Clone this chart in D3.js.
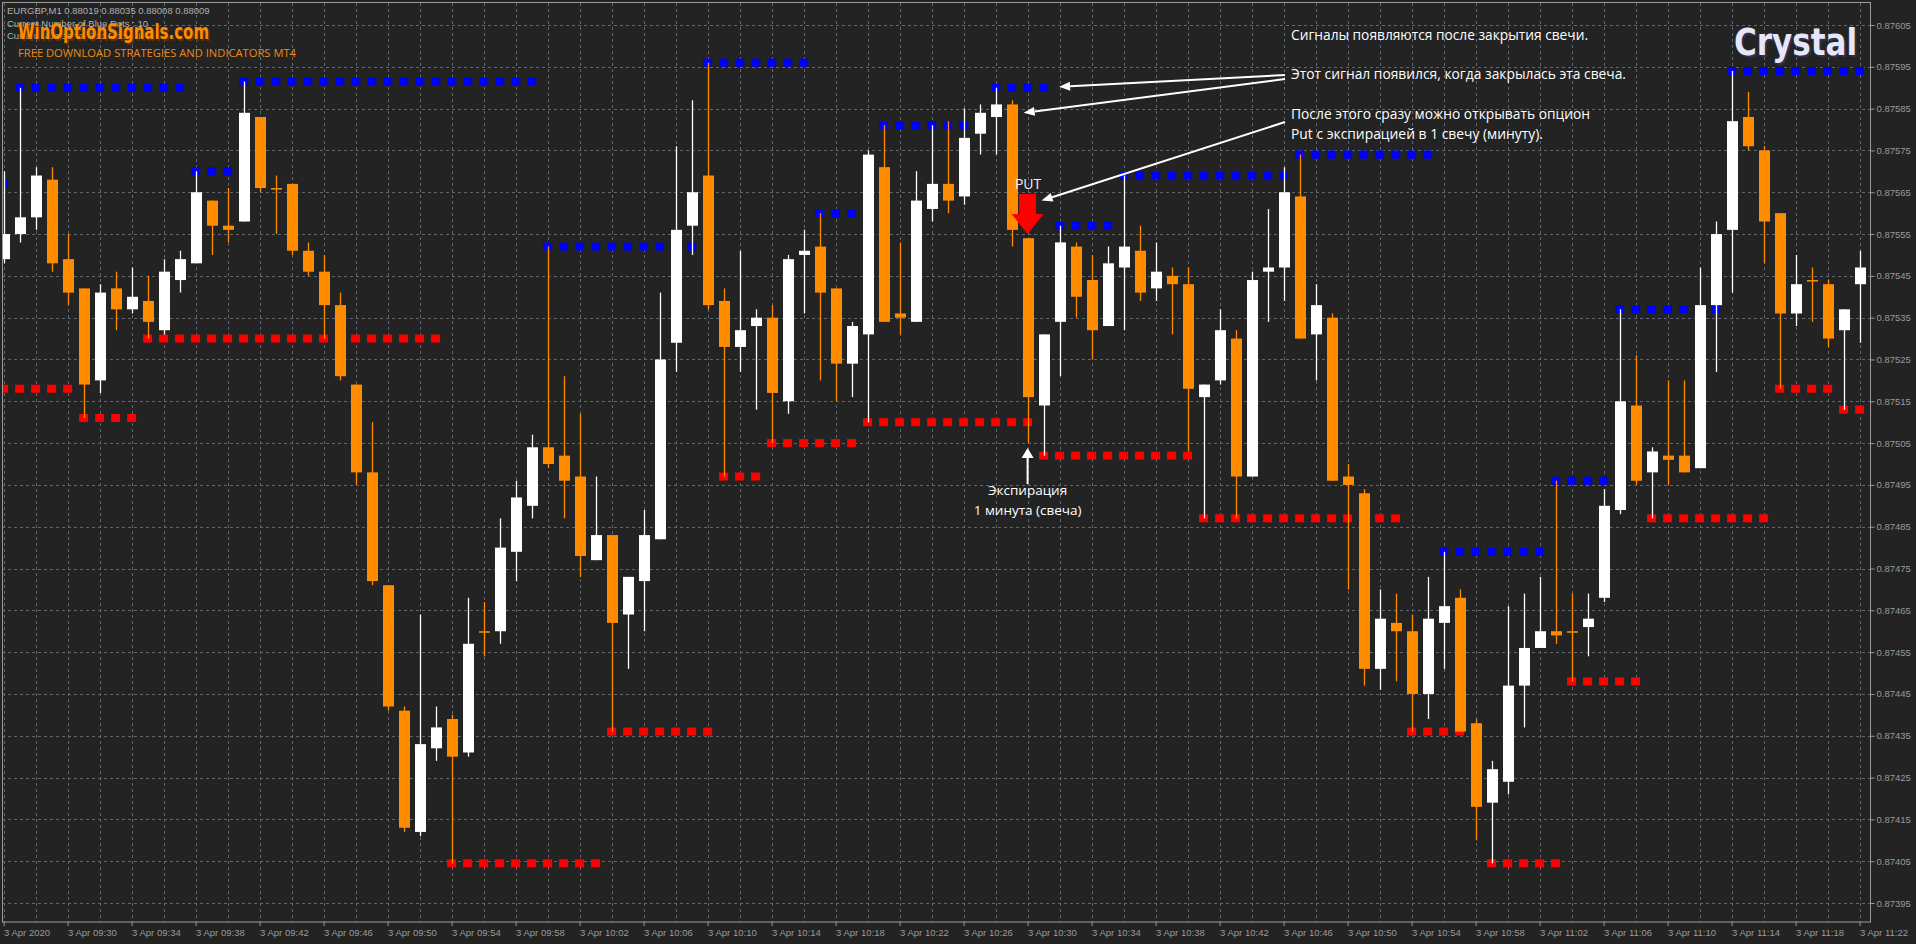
<!DOCTYPE html>
<html><head><meta charset="utf-8">
<script src="https://cdn.jsdelivr.net/npm/d3@7"></script>
<style>html,body{margin:0;padding:0;background:#232323;overflow:hidden}</style>
</head><body><svg id="c" width="1916" height="944"></svg>
<script>
// ---- data (EURGBP M1, 3 Apr 2020, 09:26 .. 11:22) ----
const openP=[0.87549,0.87555,0.87559,0.87568,0.87549,0.87542,0.8752,0.87542,0.87537,0.87539,
0.87532,0.87544,0.87548,0.87563,0.87557,0.87558,0.87583,0.87566,0.87567,0.87551,
0.87546,0.87538,0.87519,0.87498,0.87471,0.87441,0.87412,0.87432,0.87439,0.87431,
0.8746,0.8746,0.87479,0.8749,0.87504,0.87502,0.87497,0.87477,0.87483,0.87464,
0.87472,0.87482,0.87529,0.87557,0.87569,0.87539,0.87528,0.87533,0.87535,0.87515,
0.8755,0.87552,0.87542,0.87524,0.87531,0.87571,0.87536,0.87534,0.87561,0.87567,
0.87564,0.87579,0.87583,0.87586,0.87554,0.87514,0.87534,0.87552,0.87544,0.87533,
0.87547,0.87551,0.87542,0.87545,0.87543,0.87516,0.8752,0.8753,0.87497,0.87546,
0.87547,0.87564,0.87531,0.87535,0.87497,0.87493,0.87451,0.87462,0.8746,0.87445,
0.87462,0.87468,0.87438,0.87419,0.87424,0.87447,0.87456,0.8746,0.8746,0.87461,
0.87468,0.87489,0.87514,0.87498,0.87502,0.87502,0.87499,0.87538,0.87556,0.87583,
0.87575,0.8756,0.87536,0.87544,0.87543,0.87532,0.87543];
const highP=[0.8757,0.8759,0.87571,0.87571,0.87555,0.87542,0.87543,0.87546,0.87547,0.87545,
0.87549,0.87551,0.8757,0.87563,0.87566,0.875915,0.87583,0.87569,0.87567,0.87553,
0.8755,0.87541,0.87519,0.8751,0.87471,0.87442,0.87464,0.87442,0.8744,0.87468,
0.87467,0.87487,0.87496,0.87507,0.87552,0.87521,0.87512,0.87497,0.87483,0.87473,
0.87489,0.87541,0.87576,0.87587,0.87596,0.87542,0.87551,0.87537,0.87538,0.8755,
0.87556,0.8756,0.87542,0.87534,0.87575,0.87581,0.87553,0.8757,0.87581,0.87582,
0.87585,0.87586,0.8759,0.87587,0.87554,0.87531,0.87557,0.87553,0.8755,0.87552,
0.87569,0.87557,0.87553,0.87547,0.87547,0.87519,0.87537,0.87532,0.87546,0.87561,
0.87571,0.87574,0.87543,0.87536,0.875,0.87494,0.8747,0.87469,0.87464,0.87473,
0.87479,0.8747,0.87439,0.87429,0.87466,0.87469,0.87473,0.87496,0.87469,0.87469,
0.87494,0.87537,0.87526,0.87504,0.8752,0.8752,0.87547,0.87558,0.87594,0.87589,
0.87576,0.8756,0.8755,0.87547,0.87544,0.87537,0.87551];
const lowP=[0.87548,0.87553,0.87556,0.87546,0.87538,0.87511,0.87517,0.87532,0.87536,0.8753,
0.87531,0.87541,0.87548,0.8755,0.87553,0.87558,0.87565,0.87555,0.8755,0.87545,
0.8753,0.8752,0.87495,0.87471,0.87441,0.87412,0.87411,0.87429,0.874045,0.8743,
0.87454,0.87457,0.87472,0.87487,0.87499,0.87487,0.87473,0.87477,0.87436,0.87451,
0.8746,0.87482,0.87522,0.8755,0.87537,0.87497,0.87522,0.87513,0.87505,0.87512,
0.87536,0.8752,0.87515,0.87516,0.8751,0.87534,0.87531,0.87534,0.87558,0.8756,
0.87562,0.87574,0.87574,0.87552,0.87505,0.87502,0.87521,0.87535,0.87525,0.87533,
0.87532,0.87539,0.87539,0.87531,0.87503,0.87487,0.87519,0.87487,0.87497,0.87534,
0.87539,0.8753,0.8752,0.87496,0.8747,0.87447,0.87446,0.87448,0.87436,0.87439,
0.87451,0.87436,0.8741,0.874045,0.87421,0.87437,0.87456,0.87457,0.87448,0.87454,
0.87467,0.87488,0.87495,0.87487,0.87495,0.87498,0.87499,0.87522,0.87541,0.87575,
0.87548,0.87518,0.87533,0.87534,0.87528,0.87513,0.87529];
const closeP=[0.87555,0.87559,0.87569,0.87548,0.87541,0.87519,0.87541,0.87537,0.8754,0.87534,
0.87546,0.87549,0.87565,0.87557,0.87556,0.87584,0.87566,0.87566,0.87551,0.87546,
0.87538,0.87521,0.87498,0.87472,0.87442,0.87413,0.87433,0.87437,0.8743,0.87457,
0.8746,0.8748,0.87492,0.87504,0.875,0.87496,0.87478,0.87483,0.87462,0.87473,
0.87483,0.87525,0.87556,0.87565,0.87538,0.87528,0.87532,0.87535,0.87517,0.87549,
0.87551,0.87541,0.87524,0.87533,0.87574,0.87534,0.87535,0.87563,0.87567,0.87563,
0.87578,0.87584,0.87586,0.87556,0.87516,0.87531,0.87553,0.8754,0.87532,0.87548,
0.87552,0.87541,0.87546,0.87543,0.87518,0.87519,0.87532,0.87497,0.87544,0.87547,
0.87565,0.8753,0.87538,0.87496,0.87495,0.87451,0.87463,0.8746,0.87445,0.87463,
0.87466,0.87436,0.87418,0.87427,0.87447,0.87456,0.8746,0.87459,0.8746,0.87463,
0.8749,0.87515,0.87496,0.87503,0.87501,0.87498,0.87538,0.87555,0.87582,0.87576,
0.87558,0.87536,0.87543,0.87544,0.8753,0.87537,0.87547];
const timeLabels=["3 Apr 2020","3 Apr 09:30","3 Apr 09:34","3 Apr 09:38","3 Apr 09:42","3 Apr 09:46",
"3 Apr 09:50","3 Apr 09:54","3 Apr 09:58","3 Apr 10:02","3 Apr 10:06","3 Apr 10:10","3 Apr 10:14",
"3 Apr 10:18","3 Apr 10:22","3 Apr 10:26","3 Apr 10:30","3 Apr 10:34","3 Apr 10:38","3 Apr 10:42",
"3 Apr 10:46","3 Apr 10:50","3 Apr 10:54","3 Apr 10:58","3 Apr 11:02","3 Apr 11:06","3 Apr 11:10",
"3 Apr 11:14","3 Apr 11:18","3 Apr 11:22"];
const priceTicks=[0.87605,0.87595,0.87585,0.87575,0.87565,0.87555,0.87545,0.87535,0.87525,0.87515,0.87505,
0.87495,0.87485,0.87475,0.87465,0.87455,0.87445,0.87435,0.87425,0.87415,0.87405,0.87395];
// signal dot runs: [first bar, last bar, level]
const blueRuns=[[0,0,0.87567],[1,11,0.8759],[12,14,0.8757],[15,33,0.875915],[34,43,0.87552],[44,50,0.87596],
[51,53,0.8756],[55,60,0.87581],[62,65,0.8759],[66,69,0.87557],[70,80,0.87569],[81,89,0.87574],
[90,96,0.87479],[97,100,0.87496],[101,107,0.87537],[108,116,0.87594]];
const redRuns=[[0,4,0.87518],[5,8,0.87511],[9,27,0.8753],[28,37,0.874045],[38,44,0.87436],[45,47,0.87497],
[48,53,0.87505],[54,64,0.8751],[65,74,0.87502],[75,87,0.87487],[88,91,0.87436],[93,97,0.874045],
[98,102,0.87448],[103,110,0.87487],[111,114,0.87518],[115,116,0.87513]];
const putBar=64, putPrice=0.87555;

// ---- drawing ----
const svg=d3.select('#c');
const L=2,T=3,R=1871,B=922;
const x=d3.scaleLinear().domain([0,116]).range([3.6,1859.6]);
const y=d3.scaleLinear().domain([0.87395,0.87605]).range([903,25]);
const bars=d3.range(openP.length).map(i=>({i,o:openP[i],h:highP[i],l:lowP[i],c:closeP[i]}));

svg.append('rect').attr('width',1916).attr('height',944).attr('fill','#232323');
const defs=svg.append('defs');
defs.append('clipPath').attr('id','plot').append('rect').attr('x',L+0.5).attr('y',T).attr('width',R-L-1).attr('height',B-T);

const grid=svg.append('g').attr('stroke','#5f6872').attr('stroke-width',1).attr('stroke-dasharray','3,3');
grid.selectAll('line.h').data(priceTicks).join('line').attr('class','h')
  .attr('x1',L).attr('x2',R).attr('y1',d=>Math.round(y(d))+0.5).attr('y2',d=>Math.round(y(d))+0.5);
grid.selectAll('line.v').data(d3.range(0,117,2)).join('line').attr('class','v')
  .attr('y1',T).attr('y2',B).attr('x1',d=>Math.round(x(d))+0.5).attr('x2',d=>Math.round(x(d))+0.5);

const g=svg.append('g').attr('clip-path','url(#plot)');
function dots(runs,color){
  const pts=[];runs.forEach(r=>{for(let i=r[0];i<=r[1];i++)pts.push({i,v:r[2]});});
  g.append('g').selectAll('rect').data(pts).join('rect')
   .attr('x',d=>x(d.i)-4.5).attr('y',d=>y(d.v)-4).attr('width',9).attr('height',8).attr('fill',color);
}
dots(blueRuns,'#0000ff');
dots(redRuns,'#ff0000');

const col=d=>d.c>d.o?'#ffffff':'#ff8c00';
const cg=g.append('g');
cg.selectAll('line').data(bars).join('line')
  .attr('x1',d=>Math.round(x(d.i))+0.5).attr('x2',d=>Math.round(x(d.i))+0.5)
  .attr('y1',d=>y(d.h)).attr('y2',d=>y(d.l)).attr('stroke',col).attr('stroke-width',1.3);
cg.selectAll('rect').data(bars).join('rect')
  .attr('x',d=>Math.round(x(d.i))-5).attr('width',11)
  .attr('y',d=>y(Math.max(d.o,d.c))).attr('height',d=>Math.max(1.5,Math.abs(y(d.o)-y(d.c))))
  .attr('fill',col);

// frame
svg.append('rect').attr('x',L+0.5).attr('y',T-0.5).attr('width',R-L-1).attr('height',B-T+0.5)
  .attr('fill','none').attr('stroke','#9c9c9c').attr('stroke-width',1);

// axes
const ya=svg.append('g').attr('transform',`translate(${R-0.5},0)`)
  .call(d3.axisRight(y).tickValues(priceTicks).tickFormat(d3.format('.5f')).tickSize(4));
ya.select('.domain').remove();
ya.selectAll('line').attr('stroke','#9c9c9c');
ya.selectAll('text').attr('x',6).attr('fill','#9a9a9a').style('font','9.5px "Liberation Sans",Arial,sans-serif');
const xa=svg.append('g').attr('transform',`translate(0,${B})`)
  .call(d3.axisBottom(x).tickValues(d3.range(0,117,4)).tickFormat((d,k)=>timeLabels[k]).tickSize(4));
xa.select('.domain').remove();
xa.selectAll('line').attr('stroke','#9c9c9c');
xa.selectAll('text').attr('text-anchor','start').attr('x',0).attr('y',7).attr('fill','#9a9a9a')
  .style('font','9.5px "Liberation Sans",Arial,sans-serif');

// ---- annotations ----
const tl=svg.append('g').style('font','9.5px "Liberation Sans",Arial,sans-serif').attr('fill','#b0b0b0').attr('xml:space','preserve');
tl.append('text').attr('x',7).attr('y',14).text('EURGBP,M1  0.88019 0.88035 0.88008 0.88009');
tl.append('text').attr('x',7).attr('y',27).text('Current Number of Blue Dots :    10');
tl.append('text').attr('x',7).attr('y',39).text('Current Number of Red Dots :    4');
const logo=svg.append('g').style('font','bold 22px "Liberation Sans Narrow","DejaVu Sans Condensed",sans-serif');
logo.append('text').attr('x',19.5).attr('y',40.5).attr('textLength',191).attr('lengthAdjust','spacingAndGlyphs').attr('fill','#5a3000').text('WinOptionSignals.com');
logo.append('text').attr('x',18).attr('y',39).attr('textLength',191).attr('lengthAdjust','spacingAndGlyphs').attr('fill','#ff8c00').text('WinOptionSignals.com');
svg.append('text').attr('x',18).attr('y',57).attr('textLength',278).attr('lengthAdjust','spacingAndGlyphs')
  .attr('fill','#e88c1a').style('font','10px "Open Sans",sans-serif').text('FREE DOWNLOAD STRATEGIES AND INDICATORS MT4');

const cr=svg.append('g').style('font','bold 38px "Liberation Sans Narrow","DejaVu Sans Condensed",sans-serif');
cr.append('text').attr('x',1736).attr('y',57).attr('textLength',123).attr('lengthAdjust','spacingAndGlyphs').attr('fill','#30304a').text('Crystal');
cr.append('text').attr('x',1734).attr('y',55).attr('textLength',123).attr('lengthAdjust','spacingAndGlyphs').attr('fill','#e6e6fa').text('Crystal');

const ann=svg.append('g').attr('fill','#ffffff').style('font','14px "Open Sans",sans-serif');
[[40,297,'Сигналы появляются после закрытия свечи.'],[78.5,335,'Этот сигнал появился, когда закрылась эта свеча.'],
 [118.5,299,'После этого сразу можно открывать опцион'],[138.5,252,'Put с экспирацией в 1 свечу (минуту).']]
 .forEach(t=>ann.append('text').attr('x',1291).attr('y',t[0]).attr('textLength',t[1]).attr('lengthAdjust','spacingAndGlyphs').text(t[2]));

function arrow(x1,y1,x2,y2,len,hw){
  const a=Math.atan2(y2-y1,x2-x1),bx=x2-len*Math.cos(a),by=y2-len*Math.sin(a);
  const px=-Math.sin(a)*hw,py=Math.cos(a)*hw;
  svg.append('line').attr('x1',x1).attr('y1',y1).attr('x2',bx).attr('y2',by).attr('stroke','#fff').attr('stroke-width',2);
  svg.append('path').attr('d',`M${x2},${y2}L${bx+px},${by+py}L${bx-px},${by-py}Z`).attr('fill','#fff');
}
arrow(1285,75,x(66)-0.5,y(0.87590)-1,11,4.5);
arrow(1285,79,x(63)+12,y(0.87584),11,4.5);
arrow(1285,122,x(64)+14,y(0.87563),11,4.5);

// PUT arrow
const px=x(putBar), tip=y(putPrice);
svg.append('path').attr('fill','#ff0000')
  .attr('d',`M${px-8.5},${tip-40}H${px+8.5}V${tip-20}H${px+16}L${px},${tip}L${px-16},${tip-20}H${px-8.5}Z`);
svg.append('text').attr('x',px+0.5).attr('y',tip-45).attr('text-anchor','middle').attr('fill','#f0f0f0')
  .style('font','14px "Open Sans",sans-serif').text('PUT');
// expiration arrow
const ey=y(lowP[putBar])+5;
svg.append('line').attr('x1',px).attr('x2',px).attr('y1',ey+8).attr('y2',ey+36).attr('stroke','#fff').attr('stroke-width',2);
svg.append('path').attr('d',`M${px},${ey}L${px+6},${ey+10}L${px-6},${ey+10}Z`).attr('fill','#fff');
svg.append('text').attr('x',px).attr('y',ey+47).attr('text-anchor','middle').attr('fill','#fff').style('font','13.5px "Open Sans",sans-serif').text('Экспирация');
svg.append('text').attr('x',px).attr('y',ey+67).attr('text-anchor','middle').attr('fill','#fff').style('font','13.5px "Open Sans",sans-serif').text('1 минута (свеча)');
</script></body></html>
